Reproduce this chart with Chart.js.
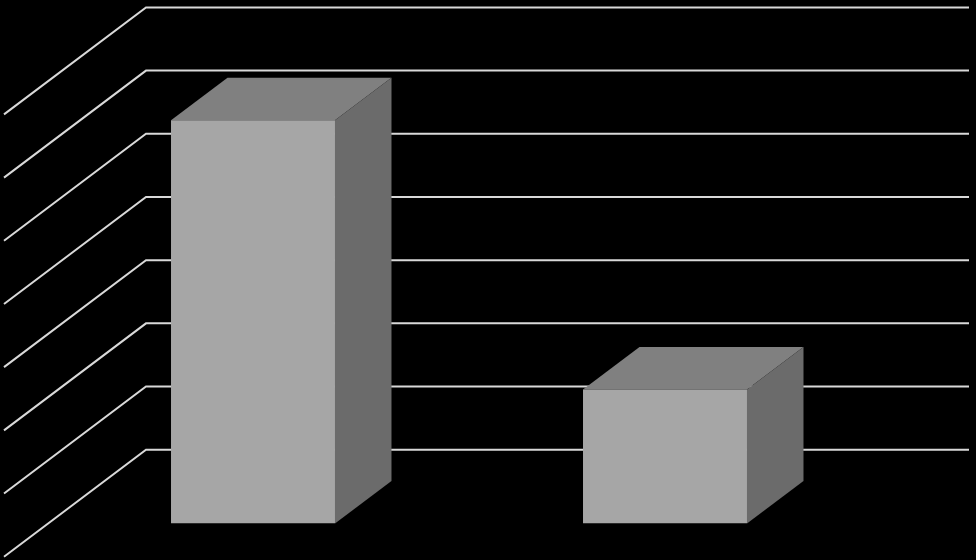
<!DOCTYPE html>
<html lang="en">
<head>
    <meta charset="UTF-8">
    <title>3D Column Chart</title>
    <script src="https://cdn.jsdelivr.net/npm/chart.js"></script>
    <style>
        html, body {
            margin: 0;
            padding: 0;
            background-color: #000;
            overflow: hidden;
        }
        canvas {
            display: block;
        }
    </style>
</head>
<body>
    <canvas id="barChart" width="976" height="560"></canvas>

    <script>
        const categories = ['A', 'B'];
        const seriesValues = [6.38, 2.12];
        const gridTicks = [1, 2, 3, 4, 5, 6, 7, 8];

        // Fake 3D look: depth of the columns and of the floor, in pixels
        const depthX = 56.5;
        const depthY = 42.5;
        const wallX = 146;      // back wall left edge
        const wallRight = 969;
        const wallShift = 10.6; // back wall sits a bit above the front scale
        const sideX = 142;      // length of the slanted grid lines
        const sideY = 107;

        const box3d = {
            id: 'box3d',
            beforeDatasetsDraw(chart) {
                const ctx = chart.ctx;
                const y = chart.scales.y;
                ctx.save();
                ctx.strokeStyle = '#d9d9d9';
                ctx.lineWidth = 2;
                ctx.lineJoin = 'miter';
                gridTicks.forEach(t => {
                    const py = y.getPixelForValue(t) - wallShift;
                    ctx.beginPath();
                    ctx.moveTo(wallX - sideX, py + sideY);
                    ctx.lineTo(wallX, py);
                    ctx.lineTo(wallRight, py);
                    ctx.stroke();
                });

                // top and side faces go under the front face, covering the grid
                chart.getDatasetMeta(0).data.forEach(bar => {
                    const left = bar.x - bar.width / 2;
                    const right = bar.x + bar.width / 2;

                    ctx.fillStyle = '#808080';
                    ctx.beginPath();
                    ctx.moveTo(left, bar.y);
                    ctx.lineTo(left + depthX, bar.y - depthY);
                    ctx.lineTo(right + depthX, bar.y - depthY);
                    ctx.lineTo(right, bar.y);
                    ctx.closePath();
                    ctx.fill();

                    ctx.fillStyle = '#6b6b6b';
                    ctx.beginPath();
                    ctx.moveTo(right, bar.y);
                    ctx.lineTo(right + depthX, bar.y - depthY);
                    ctx.lineTo(right + depthX, bar.base - depthY);
                    ctx.lineTo(right, bar.base);
                    ctx.closePath();
                    ctx.fill();
                });
                ctx.restore();
            }
        };

        new Chart(document.getElementById('barChart').getContext('2d'), {
            type: 'bar',
            data: {
                labels: categories,
                datasets: [{
                    data: seriesValues,
                    backgroundColor: '#a6a6a6',
                    borderWidth: 0
                }]
            },
            options: {
                responsive: false,
                animation: false,
                devicePixelRatio: 1,
                layout: {
                    padding: { left: 47, right: 105, top: 18, bottom: 36.5 }
                },
                datasets: {
                    bar: { categoryPercentage: 1, barPercentage: 0.398 }
                },
                scales: {
                    x: { display: false },
                    y: { display: false, min: 0, max: 8 }
                },
                plugins: {
                    legend: { display: false },
                    tooltip: { enabled: false }
                }
            },
            plugins: [box3d]
        });
    </script>
</body>
</html>
